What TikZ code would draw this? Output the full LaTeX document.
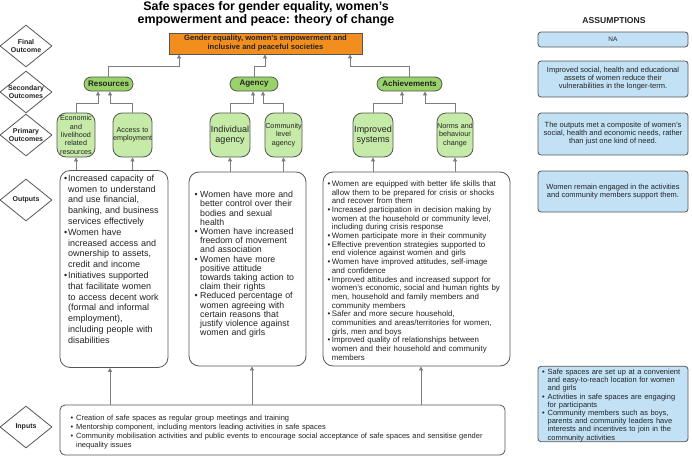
\documentclass[tikz,border=0pt]{standalone}
\usepackage{fontspec}
\setmainfont{Liberation Sans}
\usetikzlibrary{shapes.geometric,arrows.meta}

\definecolor{finalorange}{RGB}{242,142,30}
\definecolor{secgreen}{RGB}{152,210,104}
\definecolor{primgreen}{RGB}{198,234,168}
\definecolor{assumblue}{RGB}{194,225,245}
\definecolor{edgegray}{RGB}{85,85,85}
\definecolor{arrowgray}{RGB}{125,125,125}
\definecolor{inkgray}{RGB}{35,35,35}

% bullet paragraph with hanging indent
\newcommand{\bul}[2][0.5em]{\par\noindent\hangindent=#1\hangafter=1\makebox[#1][l]{\textbullet}{\let\\\newline#2}\par}

\begin{document}
\begin{tikzpicture}
  [x=1pt,y=-1pt,
   every node/.style={text=inkgray,inner sep=0pt},
   stage/.style={diamond,draw=edgegray,line width=.8pt,fill=white,minimum width=52pt,minimum height=42pt,
     label={[align=center,font=\fontsize{7}{8.5}\selectfont\bfseries,text=inkgray]center:#1}},
   finalbox/.style={rectangle,draw=edgegray,line width=.8pt,fill=finalorange,minimum width=193pt,minimum height=21pt,
     align=center,font=\fontsize{7.6}{9}\selectfont\bfseries},
   secbox/.style={rectangle,rounded corners=7pt,draw=edgegray,line width=.8pt,fill=secgreen,minimum width=#1,
     minimum height=14pt,font=\fontsize{8}{9}\selectfont\bfseries},
   primbox/.style={rectangle,rounded corners=9pt,draw=edgegray,line width=.8pt,fill=primgreen,text width=#1,
     minimum height=44pt,align=center,font=\fontsize{7.2}{8.3}\selectfont},
   outbox/.style={rectangle,rounded corners=10pt,draw=edgegray,line width=.8pt,fill=white,minimum width=#1,
     minimum height=194pt,align=left},
   inbox/.style={rectangle,rounded corners=5pt,draw=edgegray,line width=.8pt,fill=white,minimum width=445pt,
     minimum height=50pt,text width=424pt,align=left,font=\fontsize{7.5}{9}\selectfont},
   assumbox/.style={rectangle,rounded corners=3pt,draw=edgegray,line width=.8pt,fill=assumblue,minimum width=150pt,
     minimum height=#1,align=center,font=\fontsize{7.5}{8}\selectfont},
   arr/.style={draw=arrowgray,line width=.8pt,-{Triangle[length=4pt,width=4pt]}}]

  \useasboundingbox (0,0) rectangle (692,458);

  % headings
  \node[align=center,text=black,font=\fontsize{12.4}{13.2}\selectfont\bfseries] (title) at (266,13.5)
    {Safe spaces for gender equality, women's\\empowerment and peace: theory of change};
  \node[text=inkgray,font=\fontsize{8.6}{10}\selectfont\bfseries] (asshead) at (614,21) {ASSUMPTIONS};

  % stages on the left
  \node[stage={Final\\Outcome}] (dfinal) at (26,46) {};
  \node[stage={Secondary\\Outcomes}] (dsec) at (26,92) {};
  \node[stage={Primary\\Outcomes}] (dprim) at (26,135) {};
  \node[stage={Outputs}] (doutput) at (26,200) {};
  \node[stage={Inputs}] (dinput) at (26,427) {};

  % final outcome
  \node[finalbox] (final) at (265.5,43.5) {Gender equality, women's empowerment and\\inclusive and peaceful societies};

  % secondary outcomes
  \node[secbox=49pt] (res) at (108.5,84) {Resources};
  \node[secbox=48pt] (agency) at (254,84) {Agency};
  \node[secbox=65pt] (achieve) at (409.5,84) {Achievements};

  % primary outcomes
  \node[primbox=38pt] (econ) at (76,135) {Economic\\and\\livelihood\\related\\resources};
  \node[primbox=39pt] (access) at (132.5,135) {Access to\\employment};
  \node[primbox=40pt,font=\fontsize{9}{10.5}\selectfont] (indiv) at (230,135) {Individual\\agency};
  \node[primbox=37pt] (comm) at (283.5,135) {Community\\level\\agency};
  \node[primbox=40pt,font=\fontsize{9}{10.5}\selectfont] (impr) at (373,135) {Improved\\systems};
  \node[primbox=36pt] (norms) at (455,135) {Norms and\\behaviour\\change};

  % outputs
  \node[outbox=108pt,text width=100pt,font=\fontsize{9}{10.8}\selectfont] (outres) at (114,269) {%
    \bul[0.45em]{Increased capacity of\\women to understand\\and use financial,\\banking, and business\\services effectively}
    \bul[0.45em]{Women have\\increased access and\\ownership to assets,\\credit and income}
    \bul[0.45em]{Initiatives supported\\that facilitate women\\to access decent work\\(formal and informal\\employment),\\including people with\\disabilities}
    \vspace{24pt}};
  \node[outbox=117pt,text width=106pt,font=\fontsize{8.8}{9.2}\selectfont] (outagency) at (247.5,269) {%
    \bul[0.65em]{Women have more and\\better control over their\\bodies and sexual\\health}
    \bul[0.65em]{Women have increased\\freedom of movement\\and association}
    \bul[0.65em]{Women have more\\positive attitude\\towards taking action to\\claim their rights}
    \bul[0.65em]{Reduced percentage of\\women agreeing with\\certain reasons that\\justify violence against\\women and girls}
    \vspace{12pt}};
  \node[outbox=187pt,text width=178pt,font=\fontsize{7.9}{8.7}\selectfont] (outachieve) at (416.5,269) {%
    \bul[0.55em]{Women are equipped with better life skills that\\allow them to be prepared for crisis or shocks\\and recover from them}
    \bul[0.55em]{Increased participation in decision making by\\women at the household or community level,\\including during crisis response}
    \bul[0.55em]{Women participate more in their community}
    \bul[0.55em]{Effective prevention strategies supported to\\end violence against women and girls}
    \bul[0.55em]{Women have improved attitudes, self-image\\and confidence}
    \bul[0.55em]{Improved attitudes and increased support for\\women's economic, social and human rights by\\men, household and family members and\\community members}
    \bul[0.55em]{Safer and more secure household,\\communities and areas/territories for women,\\girls, men and boys}
    \bul[0.55em]{Improved quality of relationships between\\women and their household and community\\members}};

  % inputs
  \node[inbox] (inputs) at (282.5,430) {%
    \bul[0.75em]{Creation of safe spaces as regular group meetings and training}
    \bul[0.75em]{Mentorship component, including mentors leading activities in safe spaces}
    \bul[0.75em]{Community mobilisation activities and public events to encourage social acceptance of safe spaces and sensitise gender\\inequality issues}};

  % assumptions
  \node[assumbox=15pt,font=\fontsize{6.5}{8}\selectfont] (assfinal) at (613,39.5) {NA};
  \node[assumbox=36pt] (asssec) at (613,79) {Improved social, health and educational\\assets of women reduce their\\vulnerabilities in the longer-term.};
  \node[assumbox=42pt] (assprim) at (613,134) {The outputs met a composite of women's\\social, health and economic needs, rather\\than just one kind of need.};
  \node[assumbox=41pt] (assout) at (613,191.5) {Women remain engaged in the activities\\and community members support them.};
  \node[assumbox=72pt,text width=142pt,align=left,font=\fontsize{7.5}{8.2}\selectfont] (assin) at (613,404) {%
    \bul[0.75em]{Safe spaces are set up at a convenient\\and easy-to-reach location for women\\and girls}
    \bul[0.75em]{Activities in safe spaces are engaging\\for participants}
    \bul[0.75em]{Community members such as boys,\\parents and community leaders have\\interests and incentives to join in the\\community activities}};

  % connectors
  \coordinate (primelbow) at (0,103);
  \coordinate (secelbow) at (0,66);

  \foreach \from/\dx in {res/-86.5,agency/-0.5,achieve/84.5}
    \draw[arr] (\from.north) -- (\from.north |- secelbow) -| ([xshift=\dx pt]final.south);

  \foreach \from/\to/\dx in {econ/res/-10.5,access/res/1.5,indiv/agency/-1,comm/agency/9,impr/achieve/-7.5,norms/achieve/15.5}
    \draw[arr] (\from.north) -- (\from.north |- primelbow) -| ([xshift=\dx pt]\to.south);

  \foreach \from/\to in {outres/econ,outres/access,outagency/indiv,outagency/comm,outachieve/impr,outachieve/norms}
    \draw[arr] (\to.south |- \from.north) -- (\to.south);

  \foreach \to/\dx in {outres/-4,outagency/4.5,outachieve/4.5}
    \draw[arr] ([xshift=\dx pt]\to.south |- inputs.north) -- ([xshift=\dx pt]\to.south);

\end{tikzpicture}
\end{document}
